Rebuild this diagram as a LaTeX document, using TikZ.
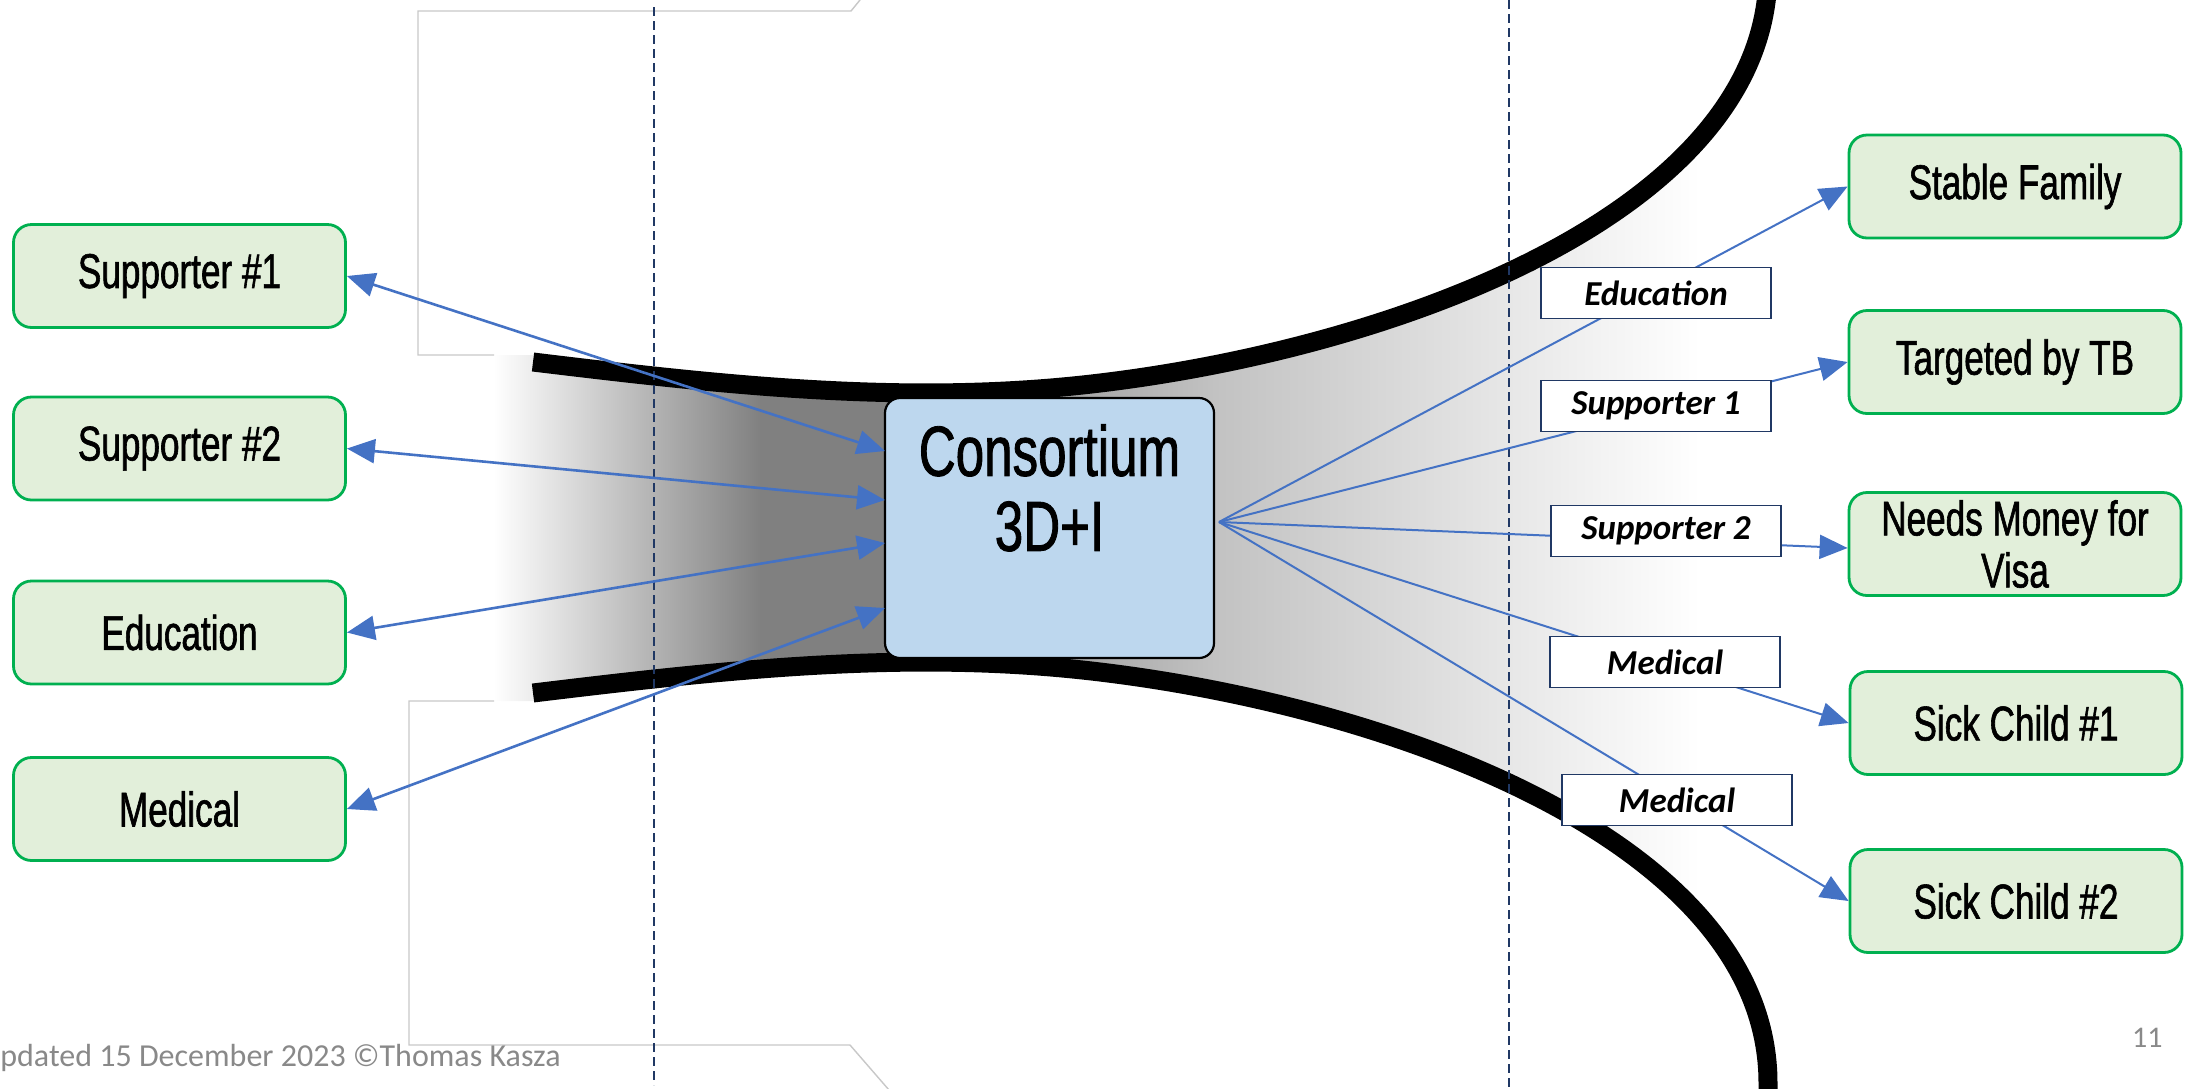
\documentclass[tikz,border=0pt]{standalone}
\usepackage{fontspec}
\setmainfont{Carlito}
\newfontfamily\boxfont[FakeStretch=0.72,FakeBold=1.2]{Liberation Sans}
\newfontfamily\lblfont{Carlito}
\usetikzlibrary{arrows.meta,calc}
\definecolor{gfill}{HTML}{E2EFDA}
\definecolor{gline}{HTML}{00B050}
\definecolor{cfill}{HTML}{BDD7EE}
\definecolor{ablue}{HTML}{4472C4}
\definecolor{navy}{HTML}{203864}
\definecolor{shdark}{HTML}{808080}
\definecolor{shmid}{HTML}{C2C2C2}
\definecolor{framegray}{HTML}{C8C8C8}
\definecolor{footgray}{HTML}{898989}
\begin{document}
\begin{tikzpicture}[x=0.5pt,y=-0.5pt,
  gbox/.style={draw=gline, fill=gfill, line width=1.4pt, rounded corners=9pt,
    minimum width=166pt, minimum height=51.5pt, inner sep=0pt, align=center,
    font=\boxfont\fontsize{24.4}{26}\selectfont},
  consbox/.style={draw=black, line width=1.1pt, fill=cfill, rounded corners=7.5pt,
    minimum width=164.5pt, minimum height=130pt, inner sep=0pt},
  constext/.style={font=\boxfont\fontsize{35.5}{37.5}\selectfont, align=center, inner sep=0pt},
  lbl/.style={draw=navy, fill=white, line width=0.9pt, minimum width=115pt,
    minimum height=25.5pt, inner sep=0pt,
    font=\lblfont\bfseries\itshape\fontsize{17.5}{20}\selectfont},
  conn/.style={draw=ablue, line width=1pt, -{Triangle[length=14pt,width=12pt]}},
  dconn/.style={draw=ablue, line width=1.3pt,
    {Triangle[length=14pt,width=12pt]}-{Triangle[length=14pt,width=12pt]}},
  dashv/.style={draw=navy, line width=1.1pt, dash pattern=on 4.7pt off 2.3pt},
  frameline/.style={draw=framegray, line width=0.7pt},
  funnel/.style={draw=black, line width=9.5pt},
  foot/.style={inner sep=0pt, text=footgray}
]
\useasboundingbox (0,0) rectangle (2201,1088);

% ---- shaded neck ----
\begin{scope}
  \clip (493,355) -- (540,355) -- (540,-40) -- (1850,-40) -- (1850,1110)
        -- (540,1110) -- (540,701) -- (493,701) -- cycle;
  \shade[left color=white, right color=shdark] (493,-40) rectangle (761,1110);
  \fill[shdark] (760,-40) rectangle (886,1110);
  \shade[left color=shdark, right color=shmid] (885,-40) rectangle (1215,1110);
  \shade[left color=shmid, right color=white] (1214,-40) rectangle (1700,1110);
\end{scope}

% ---- white regions beyond the curves ----
\fill[white] (533,362) .. controls (723,385) and (910,406) .. (1100,383)
  .. controls (1400,347) and (1768,210) .. (1768,-28)
  -- (1768,-40) -- (533,-40) -- cycle;
\fill[white] (533,693) .. controls (723,670) and (910,649) .. (1100,672)
  .. controls (1400,708) and (1768,845) .. (1768,1083)
  -- (1768,1110) -- (533,1110) -- cycle;

% ---- thin frames ----
\draw[frameline] (494,355) -- (418,355) -- (418,11) -- (851,11) -- (860,0);
\draw[frameline] (494,701) -- (409,701) -- (409,1045) -- (850,1045) -- (889,1090);

% ---- black curves ----
\draw[funnel] (533,362) .. controls (723,385) and (910,406) .. (1100,383)
  .. controls (1400,347) and (1768,210) .. (1768,-28);
\draw[funnel] (533,693) .. controls (723,670) and (910,649) .. (1100,672)
  .. controls (1400,708) and (1768,845) .. (1768,1083) -- (1768,1110);

% ---- dashed guides ----
\coordinate (d1t) at (654,7);
\coordinate (d1b) at (654,1085);
\coordinate (d2t) at (1509,0);
\coordinate (d2b) at (1509,1088);
\draw[dashv] (d1t) -- (d1b);
\draw[dashv] (d2t) -- (d2b);

% ---- nodes ----
\node[gbox] (s1) at (179.5,276) {Supporter \#1};
\node[gbox] (s2) at (179.5,448.5) {Supporter \#2};
\node[gbox] (ed) at (179.5,632.5) {Education};
\node[gbox] (md) at (179.5,809) {Medical};

\node[gbox] (sf) at (2015,186.5) {Stable Family};
\node[gbox] (tb) at (2015,362) {Targeted by TB};
\node[gbox] (nm) at (2015,544) {Needs Money for\\Visa};
\node[gbox] (sc1) at (2016,723) {Sick Child \#1};
\node[gbox] (sc2) at (2016,901) {Sick Child \#2};

\node[consbox] (cons) at (1049.5,528) {};
\node[constext, anchor=north] (constxt) at (1049.5,424) {Consortium\\3D+I};

% ---- left connectors ----
\coordinate (w1) at (885,451);
\coordinate (w2) at (885,500);
\coordinate (w3) at (885,543);
\coordinate (w4) at (885,608);
\draw[dconn] (s1.east) -- (w1);
\draw[dconn] (s2.east) -- (w2);
\draw[dconn] (ed.east) -- (w3);
\draw[dconn] (md.east) -- (w4);

% ---- right connectors ----
\coordinate (fan) at (1219,522);
\draw[conn] (fan) -- (sf.west);
\draw[conn] (fan) -- (tb.west);
\draw[conn] (fan) -- ($(nm.west)+(0,4)$);
\draw[conn] (fan) -- (sc1.west);
\draw[conn] (fan) -- (sc2.west);

\node[lbl] (le) at (1656,293) {Education};
\node[lbl] (ls1) at (1656,406) {Supporter 1};
\node[lbl] (ls2) at (1666,531) {Supporter 2};
\node[lbl] (lm1) at (1665,662) {Medical};
\node[lbl] (lm2) at (1677,800) {Medical};

% ---- footer ----
\node[foot, anchor=base west, font=\fontsize{16}{18}\selectfont] (ft) at (0,1066) {pdated 15 December 2023 ©Thomas Kasza};
\node[foot, anchor=base east, font=\fontsize{15}{17}\selectfont] (pg) at (2163,1047) {11};
\end{tikzpicture}
\end{document}
